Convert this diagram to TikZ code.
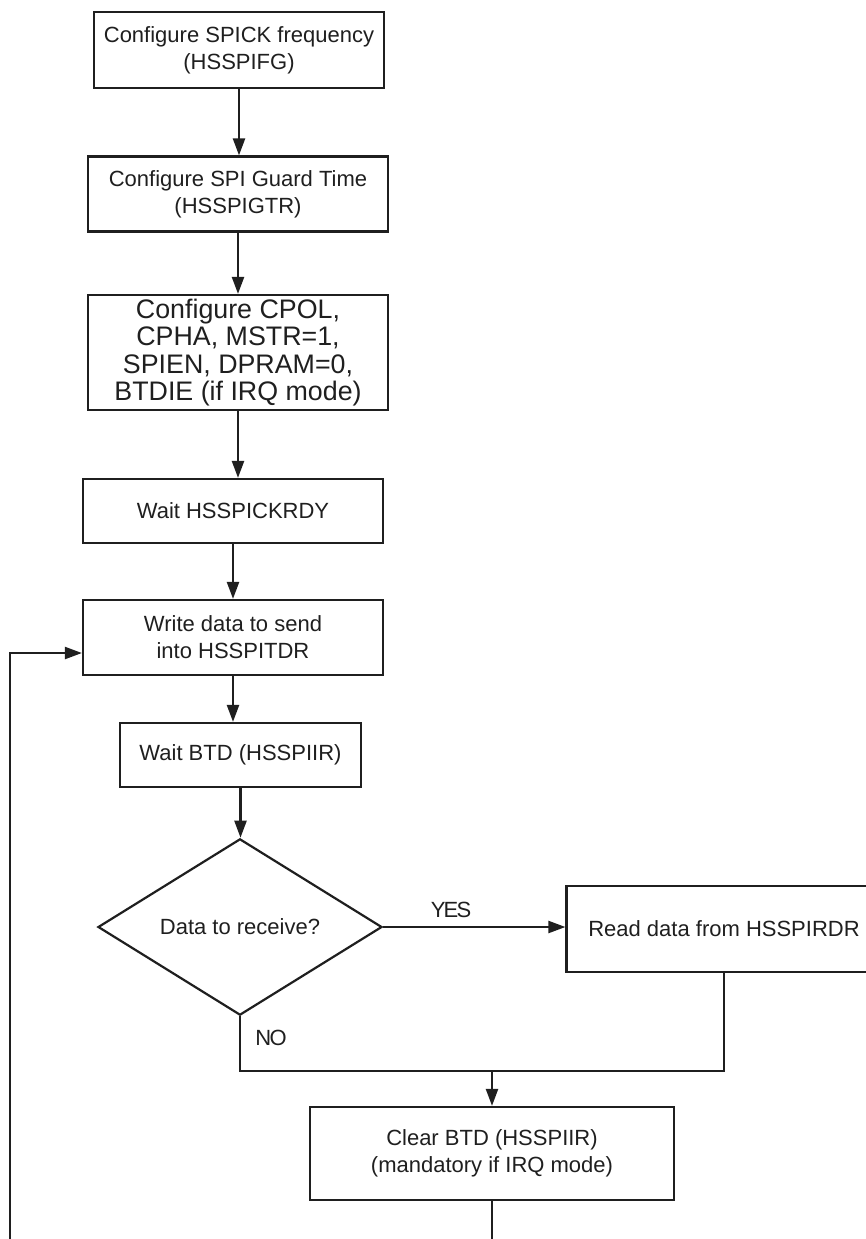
\documentclass[tikz,border=0pt]{standalone}
\usepackage{fontspec}
\setmainfont{Liberation Sans}
\newfontfamily\narrowfont[LetterSpace=-8]{Liberation Sans}
\usetikzlibrary{positioning,arrows.meta,shapes.geometric,calc}

\begin{document}
\begin{tikzpicture}[x=0.5pt, y=-0.5pt,
  box/.style={draw=black!88, line width=1.1pt, align=center, inner sep=0pt,
    text=black!88, font=\fontsize{11}{13.5}\selectfont},
  decision/.style={box, diamond},
  lbl/.style={inner sep=0pt, text=black!88, font=\narrowfont\fontsize{11}{13}\selectfont},
  line/.style={draw=black!88, line width=1.1pt},
  flow/.style={line, -{Triangle[length=8.5pt,width=6pt]}}]
\useasboundingbox (0,0) rectangle (866,1239);

\node[box, minimum width=145pt, minimum height=38pt] (freq) at (239,50)
  {Configure SPICK frequency\\(HSSPIFG)};
\node[box, minimum width=150pt, minimum height=37.5pt] (guard) at (238,194)
  {Configure SPI Guard Time\\(HSSPIGTR)};
\node[box, minimum width=150pt, minimum height=57.5pt, font=\fontsize{13.4}{13.6}\selectfont] (mode) at (238,352.5)
  {Configure CPOL,\\CPHA, MSTR=1,\\SPIEN, DPRAM=0,\\BTDIE (if IRQ mode)};
\node[box, minimum width=150pt, minimum height=32pt] (ckrdy) at (233,511) {Wait HSSPICKRDY};
\node[box, minimum width=150pt, minimum height=37.5pt] (write) at (233,637.5)
  {Write data to send\\into HSSPITDR};
\node[box, minimum width=120.5pt, minimum height=32pt] (btd) at (240.5,755) {Wait BTD (HSSPIIR)};
\node[decision, minimum width=142pt, minimum height=80.5pt] (dec) at (240,927) {Data to receive?};
\node[box, minimum width=157.5pt, minimum height=43pt] (read) at (724,929) {Read data from HSSPIRDR};
\node[box, minimum width=182pt, minimum height=46.5pt] (clear) at (492,1153.5)
  {Clear BTD (HSSPIIR)\\(mandatory if IRQ mode)};

\node[lbl] (yes) at (451,910) {YES};
\node[lbl] (no) at (271,1038) {NO};

\coordinate (join) at (492,1071);
\coordinate (loop) at (10,1239);

\draw[flow] (freq.south) -- (freq.south |- guard.north);
\draw[flow] (guard.south) -- (guard.south |- mode.north);
\draw[flow] (mode.south) -- (mode.south |- ckrdy.north);
\draw[flow] (ckrdy.south) -- (ckrdy.south |- write.north);
\draw[flow] (write.south) -- (write.south |- btd.north);
\draw[flow] (btd.south) -- (btd.south |- dec.north);
\draw[flow] (dec.east) -- (dec.east -| read.west);
\draw[line] (dec.south) |- (join) -| (read.south);
\draw[flow] (join) -- (clear.north);
\draw[line] (clear.south) -- (clear.south |- loop);
\draw[flow] (loop) |- ($(write.west)+(0,15.5)$);
\end{tikzpicture}
\end{document}
